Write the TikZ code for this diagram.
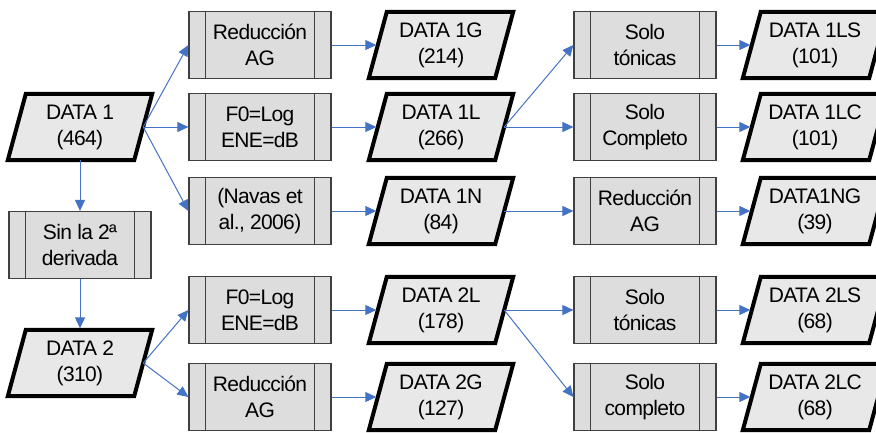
\documentclass[tikz,border=0pt]{standalone}
\usepackage{fontspec}
\setmainfont{Liberation Sans}[LetterSpace=-3]
\usetikzlibrary{arrows.meta,calc}
\pgfdeclarelayer{background}
\pgfsetlayers{background,main}

\definecolor{flowblue}{HTML}{4472C4}
\definecolor{procfill}{HTML}{DDDDDD}
\definecolor{procline}{HTML}{404040}
\definecolor{datafill}{HTML}{E8E8E8}

\tikzset{
  boxfont/.style={font=\fontsize{21}{26}\selectfont},
  procbox/.style={boxfont, draw=procline, fill=procfill, line width=1.2pt,
    minimum width=142pt, minimum height=67pt, align=center, inner sep=0pt},
  databox/.style={boxfont, minimum width=126pt, minimum height=66pt,
    align=center, inner sep=0pt},
  dataedge/.style={draw=black, fill=datafill, line width=4pt, line join=miter},
  strip/.style={draw=procline, line width=1.2pt},
  flow/.style={draw=flowblue, line width=1pt,
    -{Triangle[length=11pt,width=10pt]}},
  intodata/.style={flow, shorten >=1.5pt},
}

% parallelogram (data) outline behind a databox node
\newcommand\dataoutline[1]{%
  \path[dataedge] ($(#1.south west)+(-9,0)$) -- ($(#1.north west)+(9,0)$)
    -- ($(#1.north east)+(9,0)$) -- ($(#1.south east)+(-9,0)$) -- cycle;}
% the two side strips of a predefined-process box
\newcommand\procstrips[1]{%
  \draw[strip] ($(#1.north west)+(17,0)$) -- ($(#1.south west)+(17,0)$);
  \draw[strip] ($(#1.north east)+(-17,0)$) -- ($(#1.south east)+(-17,0)$);}

\begin{document}
\begin{tikzpicture}[x=1pt,y=-1pt]
\useasboundingbox (0,0) rectangle (876,432);
\clip (0,0) rectangle (876,432);

% left column
\node[databox] (d1) at (80,127) {DATA 1\\(464)};
\node[procbox] (sin) at (80,245) {Sin la 2ª\\derivada};
\node[databox] (d2) at (80,363) {DATA 2\\(310)};

% first processing column
\node[procbox] (pg1) at (260,45)  {Reducción\\AG};
\node[procbox] (pl1) at (260,127) {F0=Log\\ENE=dB};
\node[procbox] (pn1) at (260,211) {(Navas et\\al., 2006)};
\node[procbox] (pl2) at (260,310) {F0=Log\\ENE=dB};
\node[procbox] (pg2) at (260,397) {Reducción\\AG};

% intermediate data sets
\node[databox] (d1g) at (441,45)  {DATA 1G\\(214)};
\node[databox] (d1l) at (441,127) {DATA 1L\\(266)};
\node[databox] (d1n) at (441,211) {DATA 1N\\(84)};
\node[databox] (d2l) at (441,310) {DATA 2L\\(178)};
\node[databox] (d2g) at (441,397) {DATA 2G\\(127)};

% second processing column
\node[procbox] (st1) at (645,45)  {Solo\\tónicas};
\node[procbox] (sc1) at (645,127) {Solo\\Completo};
\node[procbox] (rn1) at (645,211) {Reducción\\AG};
\node[procbox] (st2) at (645,310) {Solo\\tónicas};
\node[procbox] (sc2) at (645,397) {Solo\\completo};

% final data sets
\node[databox] (d1ls) at (815,45)  {DATA 1LS\\(101)};
\node[databox] (d1lc) at (815,127) {DATA 1LC\\(101)};
\node[databox] (d1ng) at (815,211) {DATA1NG\\(39)};
\node[databox] (d2ls) at (815,310) {DATA 2LS\\(68)};
\node[databox] (d2lc) at (815,397) {DATA 2LC\\(68)};

\begin{pgfonlayer}{background}
  \foreach \n in {d1,d2,d1g,d1l,d1n,d2l,d2g,d1ls,d1lc,d1ng,d2ls,d2lc}
    {\dataoutline{\n}}
\end{pgfonlayer}

\foreach \n in {sin,pg1,pl1,pn1,pl2,pg2,st1,sc1,rn1,st2,sc2}
  {\procstrips{\n}}

% connectors
\draw[flow] (d1.east) -- (pg1.west);
\draw[flow] (d1.east) -- (pl1.west);
\draw[flow] (d1.east) -- (pn1.west);
\draw[flow] (d1.south) -- (sin.north);
\draw[intodata] (sin.south) -- (d2.north);
\draw[flow] (d2.east) -- (pl2.west);
\draw[flow] (d2.east) -- (pg2.west);

\draw[intodata] (pg1.east) -- (d1g.west);
\draw[intodata] (pl1.east) -- (d1l.west);
\draw[intodata] (pn1.east) -- (d1n.west);
\draw[intodata] (pl2.east) -- (d2l.west);
\draw[intodata] (pg2.east) -- (d2g.west);

\draw[flow] (d1l.east) -- (st1.west);
\draw[flow] (d1l.east) -- (sc1.west);
\draw[flow] (d1n.east) -- (rn1.west);
\draw[flow] (d2l.east) -- (st2.west);
\draw[flow] (d2l.east) -- (sc2.west);

\draw[intodata] (st1.east) -- (d1ls.west);
\draw[intodata] (sc1.east) -- (d1lc.west);
\draw[intodata] (rn1.east) -- (d1ng.west);
\draw[intodata] (st2.east) -- (d2ls.west);
\draw[intodata] (sc2.east) -- (d2lc.west);
\end{tikzpicture}
\end{document}
